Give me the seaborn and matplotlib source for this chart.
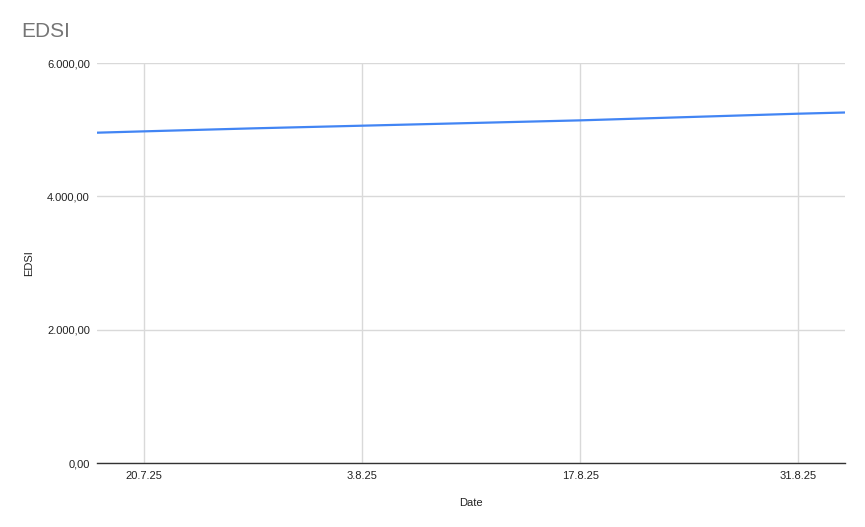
import pandas as pd
import numpy as np
import matplotlib
matplotlib.use('Agg')
import matplotlib.pyplot as plt
import matplotlib.dates as mdates
from matplotlib.ticker import FuncFormatter
import seaborn as sns

# Data (weekly points)
dates = ['2025-07-17', '2025-07-20', '2025-07-27', '2025-08-03', '2025-08-10',
         '2025-08-17', '2025-08-24', '2025-08-31', '2025-09-03']
edsi = [4955, 4975, 5020, 5060, 5100, 5140, 5190, 5240, 5258]
tick_dates = ['2025-07-20', '2025-08-03', '2025-08-17', '2025-08-31']
tick_labels = ['20.7.25', '3.8.25', '17.8.25', '31.8.25']
y_ticks = [0, 2000, 4000, 6000]

df = pd.DataFrame({'Date': pd.to_datetime(dates), 'EDSI': edsi})

sns.set_style('white')
plt.rcParams['font.family'] = ['Liberation Sans', 'DejaVu Sans']

fig = plt.figure(figsize=(8.65, 5.27), dpi=100)
ax = fig.add_axes([0.112, 0.1214, 0.865, 0.759])

sns.lineplot(data=df, x='Date', y='EDSI', ax=ax, color='#4285F4', linewidth=1.6)

ax.set_xlim(pd.Timestamp('2025-07-17'), pd.Timestamp('2025-09-03'))
ax.set_ylim(0, 6000)
ax.set_xticks(pd.to_datetime(tick_dates))
ax.set_xticklabels(tick_labels)
ax.set_yticks(y_ticks)

def de_fmt(v, pos):
    s = f'{v:,.2f}'
    return s.replace(',', 'X').replace('.', ',').replace('X', '.')
ax.yaxis.set_major_formatter(FuncFormatter(de_fmt))

ax.grid(True, color='#d9d9d9', linewidth=1)
ax.set_axisbelow(True)
for side in ['top', 'right', 'left']:
    ax.spines[side].set_visible(False)
ax.spines['bottom'].set_color('#333333')
ax.spines['bottom'].set_linewidth(1)
ax.tick_params(axis='both', length=0, labelsize=8, colors='#222222', pad=6)
ax.tick_params(axis='y', pad=5)

ax.set_xlabel('Date', fontsize=8, color='#222222', labelpad=12)
ax.set_ylabel('EDSI', fontsize=8, color='#222222', labelpad=9)

fig.text(0.025, 0.941, 'EDSI', fontsize=15, color='#757575', ha='left', va='center')

fig.savefig('out.png', dpi=100)
